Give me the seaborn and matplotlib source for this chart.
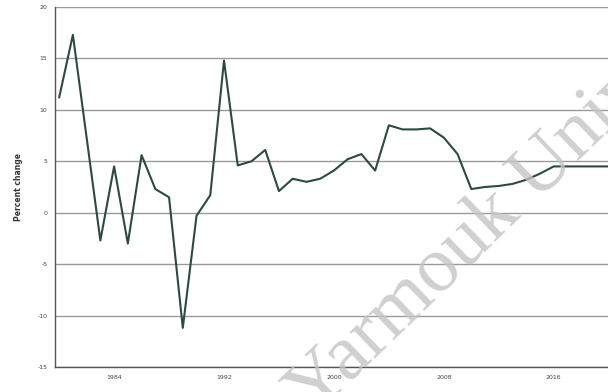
import numpy as np
import pandas as pd
import matplotlib
matplotlib.use('Agg')
import matplotlib.pyplot as plt
import seaborn as sns

# annual percent change
years = list(range(1980, 2021))
pct_change = [11.2, 17.3, 7.3, -2.7, 4.5, -3.0, 5.6, 2.3, 1.5, -11.2,
              -0.3, 1.7, 14.8, 4.6, 5.0, 6.1, 2.1, 3.3, 3.0, 3.3,
              4.1, 5.2, 5.7, 4.1, 8.5, 8.1, 8.1, 8.2, 7.3, 5.7,
              2.3, 2.5, 2.6, 2.8, 3.2, 3.8, 4.5, 4.5, 4.5, 4.5, 4.5]
year_ticks = [1984, 1992, 2000, 2008, 2016]
y_ticks = [-15, -10, -5, 0, 5, 10, 15, 20]

df = pd.DataFrame({'Year': years, 'Percent change': pct_change})

sns.set_style('white')
fig = plt.figure(figsize=(6.08, 3.92), dpi=100)
ax = fig.add_axes([0.0905, 0.064, 0.9095, 0.918])

sns.lineplot(data=df, x='Year', y='Percent change', ax=ax,
             color='#2b4a44', linewidth=1.5)

ax.set_xlim(1979.7, 2019.95)
ax.set_ylim(-15, 20)
ax.set_yticks(y_ticks)
ax.set_xticks(year_ticks)
ax.set_yticklabels([str(v) for v in y_ticks], fontsize=4.5, color='#444444')
ax.set_xticklabels([str(v) for v in year_ticks], fontsize=4.5, color='#444444')
ax.tick_params(axis='both', length=2.5, width=0.6, pad=3, color='#555555')
ax.grid(axis='y', color='#9a9a9a', linewidth=1.0)
ax.set_axisbelow(True)
for s in ['top', 'right']:
    ax.spines[s].set_visible(False)
for s in ['left', 'bottom']:
    ax.spines[s].set_color('#555555')
    ax.spines[s].set_linewidth(1.0)

ax.set_xlabel('')
ax.set_ylabel('Percent change', fontsize=5.5, fontweight='bold', color='#333333', labelpad=10)

# watermark (cut off at the figure edge, as in the reference)
fig.text(0.535, -0.097, 'Yarmouk University', fontsize=57, family='Liberation Serif',
         color='#c4c4c4', alpha=0.8, rotation=44, ha='left', va='bottom',
         rotation_mode='anchor', zorder=0)

fig.savefig('out.png', dpi=100)
